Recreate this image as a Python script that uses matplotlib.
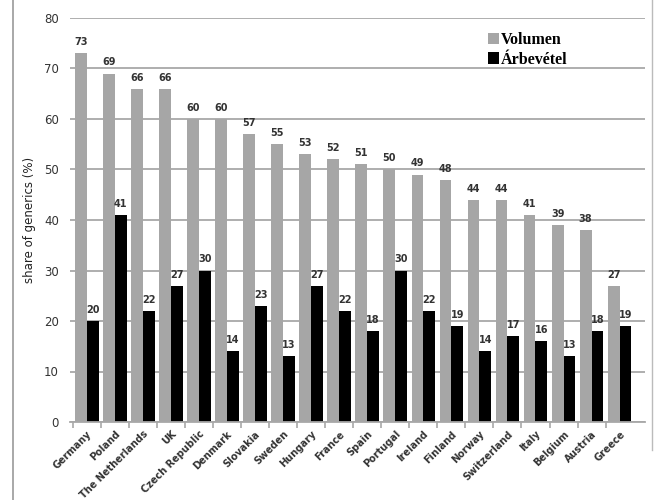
import numpy as np
import matplotlib.pyplot as plt
from matplotlib.lines import Line2D

countries = ["Germany", "Poland", "The Netherlands", "UK", "Czech Republic", "Denmark",
             "Slovakia", "Sweden", "Hungary", "France", "Spain", "Portugal", "Ireland",
             "Finland", "Norway", "Switzerland", "Italy", "Belgium", "Austria", "Greece"]
volumen = [73, 69, 66, 66, 60, 60, 57, 55, 53, 52, 51, 50, 49, 48, 44, 44, 41, 39, 38, 27]
arbevetel = [20, 41, 22, 27, 30, 14, 23, 13, 27, 22, 18, 30, 22, 19, 14, 17, 16, 13, 18, 19]

gray = "#a6a6a6"
grid = "#a8a8a8"

fig = plt.figure(figsize=(6.54, 5.0), dpi=100)
ax = fig.add_axes([0.107, 0.156, 0.879, 0.808])

x = np.arange(len(countries))
w = 0.42
ax.bar(x - w / 2, volumen, w, color=gray, label="Volumen", zorder=2)
ax.bar(x + w / 2, arbevetel, w, color="black", label="Árbevétel", zorder=2)

for xi, v in zip(x, volumen):
    ax.text(xi - w / 2, v + 1.2, str(v), ha="center", va="bottom", fontsize=7,
            fontweight="bold", color="#333333")
for xi, v in zip(x, arbevetel):
    ax.text(xi + w / 2, v + 1.2, str(v), ha="center", va="bottom", fontsize=7,
            fontweight="bold", color="#333333")

ax.set_ylim(0, 80)
ax.set_xlim(-0.6, len(countries) - 0.1)
ax.set_yticks(np.arange(0, 81, 10))
ax.yaxis.grid(True, color=grid, lw=1.3, zorder=0)
ax.tick_params(axis="y", length=0, labelsize=8.5, colors="#333333", pad=8)
for s in ["left", "right", "top"]:
    ax.spines[s].set_visible(False)
ax.spines["bottom"].set_color(grid)
ax.spines["bottom"].set_linewidth(1.3)

ax.set_xticks(x - 0.5, minor=True)
ax.set_xticks(x)
ax.set_xticklabels(countries, rotation=45, ha="right", rotation_mode="anchor",
                   fontsize=7, fontweight="bold", color="#333333")
ax.tick_params(axis="x", which="major", length=0, pad=5)
ax.tick_params(axis="x", which="minor", length=4, color=grid, width=1.2)

ax.set_ylabel("share of generics (%)", fontsize=8.5, color="#222222", labelpad=6)

leg = ax.legend(loc="upper right", bbox_to_anchor=(0.89, 1.0), frameon=False,
                prop={"family": "Liberation Serif", "weight": "bold", "size": 11.5},
                handlelength=0.7, handleheight=0.7, handletextpad=0.1,
                labelspacing=0.2)

# image frame lines
fig.add_artist(Line2D([0.02, 0.02], [0, 1], color="#999999", lw=1.2, transform=fig.transFigure))
fig.add_artist(Line2D([0.997, 0.997], [0.1, 1], color="#bbbbbb", lw=1.0, transform=fig.transFigure))

fig.savefig("out.png", dpi=100)
